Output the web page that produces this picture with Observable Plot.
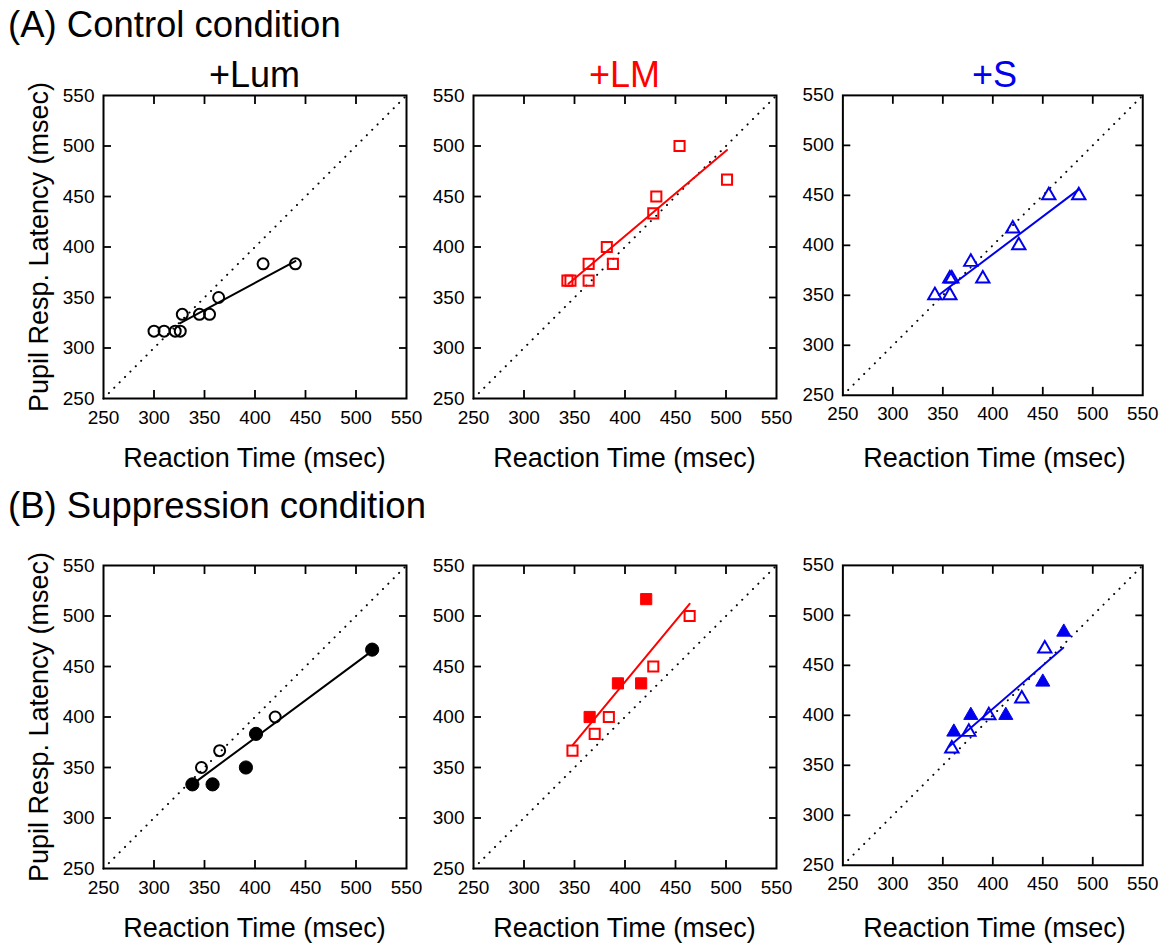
<!DOCTYPE html>
<html>
<head>
<meta charset="utf-8">
<script src="https://cdn.jsdelivr.net/npm/d3@7"></script>
<script src="https://cdn.jsdelivr.net/npm/@observablehq/plot@0.6"></script>
<style>
  html, body { margin: 0; padding: 0; background: white; }
  #page { position: relative; width: 1167px; height: 943px; overflow: hidden; background: white;
          font-family: "Liberation Sans", Arial, sans-serif; color: black; }
  .txt { position: absolute; white-space: nowrap; line-height: 1; }
  .panel { position: absolute; }
</style>
</head>
<body>
<div id="page"></div>
<script>
// ---------------- DATA ----------------
const conditionTitles = ["(A) Control condition", "(B) Suppression condition"];
const stimulusTitles = ["+Lum", "+LM", "+S"];
const stimulusColors = ["#000000", "#ff0000", "#0000ee"];
const stimulusSymbols = ["circle", "square", "triangle"];
const xAxisLabel = "Reaction Time (msec)";
const yAxisLabel = "Pupil Resp. Latency (msec)";
const axisDomain = [250, 550];
const labelTicks = [250, 300, 350, 400, 450, 500, 550];
const innerTicks = [300, 350, 400, 450, 500];
const identityLine = [250, 550];

// (A) Control, +Lum
const lumCtrlRT  = [300, 310, 321, 326, 328, 345, 355, 364, 408, 440];
const lumCtrlLat = [316.7, 316.7, 316.7, 316.7, 333.3, 333.3, 333.3, 350, 383.3, 383.3];
const lumCtrlFilled = [0, 0, 0, 0, 0, 0, 0, 0, 0, 0];
const lumCtrlFitRT  = [326, 440];
const lumCtrlFitLat = [324.6, 386];

// (A) Control, +LM
const lmCtrlRT  = [343, 346, 364, 364, 388, 382, 428, 431, 454, 501];
const lmCtrlLat = [366.7, 366.7, 366.7, 383.3, 383.3, 400, 433.3, 450, 500, 466.7];
const lmCtrlFilled = [0, 0, 0, 0, 0, 0, 0, 0, 0, 0];
const lmCtrlFitRT  = [344, 501];
const lmCtrlFitLat = [363.6, 496];

// (A) Control, +S
const sCtrlRT  = [342, 357, 357, 359, 390, 378, 420, 426, 456, 486];
const sCtrlLat = [350, 350, 366.7, 366.7, 366.7, 383.3, 416.7, 400, 450, 450];
const sCtrlFilled = [0, 0, 0, 0, 0, 0, 0, 0, 0, 0];
const sCtrlFitRT  = [346, 486];
const sCtrlFitLat = [350.3, 456];

// (B) Suppression, +Lum
const lumSupRT  = [338, 358, 391, 401, 516, 347, 365, 420];
const lumSupLat = [333.3, 333.3, 350, 383.3, 466.7, 350, 366.7, 400];
const lumSupFilled = [1, 1, 1, 1, 1, 0, 0, 0];
const lumSupFitRT  = [343, 514];
const lumSupFitLat = [337, 464];

// (B) Suppression, +LM
const lmSupRT  = [348, 370, 384, 365, 393, 416, 428, 421, 464];
const lmSupLat = [366.7, 383.3, 400, 400, 433.3, 433.3, 450, 516.7, 500];
const lmSupFilled = [0, 0, 0, 1, 1, 1, 0, 1, 0];
const lmSupFitRT  = [348, 464];
const lmSupFitLat = [372, 512];

// (B) Suppression, +S
const sSupRT  = [359, 361, 376, 378, 396, 413, 429, 450, 452, 471];
const sSupLat = [366.7, 383.3, 383.3, 400, 400, 400, 416.7, 433.3, 466.7, 483.3];
const sSupFilled = [0, 1, 0, 1, 0, 1, 0, 1, 0, 1];
const sSupFitRT  = [356, 470.5];
const sSupFitLat = [368.5, 467.5];

// ---------------- LAYOUT ----------------
const page = document.getElementById("page");
const FS_TITLE = 36.5, FS_SUB = 36, FS_LABEL = 27, FS_TICK = 19;
const frameLefts = [103, 473, 843];
const frameTops = [95, 565];
const frameSize = 303;
const mL = 60, mR = 25, mT = 10, mB = 70;

function addText(str, {x, baseline, size, color = "black", anchor = "start"}) {
  const d = document.createElement("div");
  d.className = "txt";
  d.textContent = str;
  d.style.fontSize = size + "px";
  d.style.color = color;
  d.style.top = (baseline - 0.8465 * size) + "px";
  d.style.left = x + "px";
  if (anchor === "middle") d.style.transform = "translateX(-50%)";
  page.appendChild(d);
}

function zip(rt, lat, filled) {
  return rt.map((v, i) => ({rt: v, lat: lat[i], filled: filled ? filled[i] === 1 : false}));
}

const panels = [
  [[lumCtrlRT, lumCtrlLat, lumCtrlFilled, lumCtrlFitRT, lumCtrlFitLat],
   [lmCtrlRT, lmCtrlLat, lmCtrlFilled, lmCtrlFitRT, lmCtrlFitLat],
   [sCtrlRT, sCtrlLat, sCtrlFilled, sCtrlFitRT, sCtrlFitLat]],
  [[lumSupRT, lumSupLat, lumSupFilled, lumSupFitRT, lumSupFitLat],
   [lmSupRT, lmSupLat, lmSupFilled, lmSupFitRT, lmSupFitLat],
   [sSupRT, sSupLat, sSupFilled, sSupFitRT, sSupFitLat]]
];

const symbolR = {circle: [5.5, 6.6], square: [5.7, 6.3], triangle: [5, 5.3]};

panels.forEach((row, ri) => {
  row.forEach(([rt, lat, filled, fitRT, fitLat], ci) => {
    const color = stimulusColors[ci];
    const sym = stimulusSymbols[ci];
    const pts = zip(rt, lat, filled);
    const openPts = pts.filter(d => !d.filled);
    const fillPts = pts.filter(d => d.filled);
    const fit = zip(fitRT, fitLat);
    const diag = identityLine.map(v => ({rt: v, lat: v}));
    const chart = Plot.plot({
      width: mL + frameSize + mR,
      height: mT + frameSize + mB,
      marginLeft: mL, marginRight: mR, marginTop: mT, marginBottom: mB,
      x: {domain: axisDomain, label: null},
      y: {domain: axisDomain, label: null},
      style: {background: "transparent", fontFamily: '"Liberation Sans", Arial, sans-serif',
              fontSize: FS_TICK + "px", color: "black", overflow: "visible"},
      marks: [
        Plot.line(diag, {x: "rt", y: "lat", stroke: "black", strokeWidth: 2,
                         strokeDasharray: "0.1 7.5", strokeLinecap: "round"}),
        Plot.line(fit, {x: "rt", y: "lat", stroke: color, strokeWidth: 2}),
        Plot.dot(openPts, {x: "rt", y: "lat", symbol: sym, r: symbolR[sym][0],
                           stroke: color, strokeWidth: 2, fill: "none"}),
        Plot.dot(fillPts, {x: "rt", y: "lat", symbol: sym, r: symbolR[sym][1],
                           stroke: color, strokeWidth: 1, fill: color}),
        Plot.frame({stroke: "black", strokeWidth: 2}),
        Plot.axisX({anchor: "bottom", ticks: labelTicks, tickSize: 0, tickPadding: 12, label: null, fontSize: FS_TICK}),
        Plot.axisX({anchor: "bottom", ticks: innerTicks, tickSize: -8, text: null, label: null, strokeWidth: 1.8}),
        Plot.axisX({anchor: "top", ticks: innerTicks, tickSize: -8, text: null, label: null, strokeWidth: 1.8}),
        Plot.axisY({anchor: "left", ticks: labelTicks, tickSize: 0, tickPadding: 9, label: null, fontSize: FS_TICK}),
        Plot.axisY({anchor: "left", ticks: innerTicks, tickSize: -8, text: null, label: null, strokeWidth: 1.8}),
        Plot.axisY({anchor: "right", ticks: innerTicks, tickSize: -8, text: null, label: null, strokeWidth: 1.8})
      ]
    });
    const holder = document.createElement("div");
    holder.className = "panel";
    holder.style.left = (frameLefts[ci] - mL) + "px";
    holder.style.top = (frameTops[ri] - mT) + "px";
    holder.appendChild(chart);
    page.appendChild(holder);

    const cx = frameLefts[ci] + frameSize / 2;
    addText(xAxisLabel, {x: cx, baseline: frameTops[ri] + frameSize + 70, size: FS_LABEL, anchor: "middle"});
  });

  // condition title
  addText(conditionTitles[ri], {x: 8, baseline: ri === 0 ? 38 : 519, size: FS_TITLE});

  // y axis label (rotated)
  const yl = document.createElement("div");
  yl.className = "txt";
  yl.textContent = yAxisLabel;
  yl.style.fontSize = FS_LABEL + "px";
  yl.style.left = "39px";
  yl.style.top = (frameTops[ri] + frameSize / 2) + "px";
  yl.style.transform = "translate(-50%, -50%) rotate(-90deg)";
  page.appendChild(yl);
});

// stimulus titles above the control row
stimulusTitles.forEach((t, ci) => {
  addText(t, {x: frameLefts[ci] + frameSize / 2, baseline: 87, size: FS_SUB,
              color: stimulusColors[ci], anchor: "middle"});
});
</script>
</body>
</html>
